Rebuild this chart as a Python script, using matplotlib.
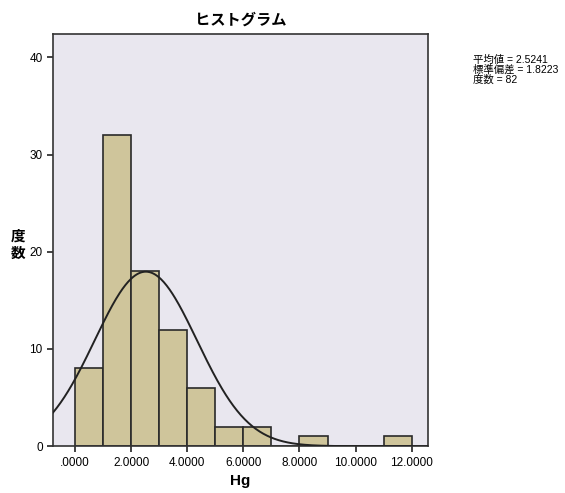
import matplotlib
matplotlib.use('Agg')
import matplotlib.pyplot as plt
import numpy as np

plt.rcParams['font.family'] = ['Liberation Sans', 'Noto Sans CJK JP', 'DejaVu Sans']

# bin edges and counts
bin_left = [0, 1, 2, 3, 4, 5, 6, 7, 8, 9, 10, 11]
counts = [8, 32, 18, 12, 6, 2, 2, 0, 1, 0, 0, 1]
mean_hg = 2.5241
sd_hg = 1.8223
n_hg = 82
xticks = [0, 2, 4, 6, 8, 10, 12]
yticks = [0, 10, 20, 30, 40]

fig = plt.figure(figsize=(5.65, 4.93), dpi=100)
ax = fig.add_axes([0.094, 0.095, 0.663, 0.836])
ax.set_facecolor('#e9e7ef')

ax.bar(bin_left, counts, width=1, align='edge', color='#cfc59b',
       edgecolor='#2a2a2a', linewidth=1.2, zorder=2)

xs = np.linspace(-0.78, 12.57, 400)
ys = n_hg * 1.0 / (sd_hg * np.sqrt(2 * np.pi)) * np.exp(-0.5 * ((xs - mean_hg) / sd_hg) ** 2)
ax.plot(xs, ys, color='#222222', linewidth=1.4, zorder=3)

ax.set_xlim(-0.78, 12.57)
ax.set_ylim(0, 42.4)
ax.set_xticks(xticks)
ax.set_xticklabels([('%.4f' % v).lstrip('0') if v == 0 else '%.4f' % v for v in xticks])
ax.set_yticks(yticks)
ax.tick_params(axis='both', labelsize=8.5, length=4, width=1.2, color='#222222')
for s in ax.spines.values():
    s.set_color('#333333')
    s.set_linewidth(1.2)

ax.set_title('ヒストグラム', fontsize=11, fontweight='bold', pad=7,
             family=['Noto Sans CJK JP'])
ax.set_xlabel('Hg', fontsize=11, fontweight='bold', labelpad=4)
fig.text(0.032, 0.505, '度\n数', fontsize=10.5, fontweight='bold', ha='center',
         va='center', linespacing=1.05, family=['Noto Sans CJK JP'])

fig.text(0.838, 0.888, '平均値 = %.4f\n標準偏差 = %.4f\n度数 = %d' % (mean_hg, sd_hg, n_hg),
         fontsize=7.5, va='top', ha='left', linespacing=0.95,
         family=['Liberation Sans', 'Noto Sans CJK JP'])

fig.savefig('out.png', dpi=100)
